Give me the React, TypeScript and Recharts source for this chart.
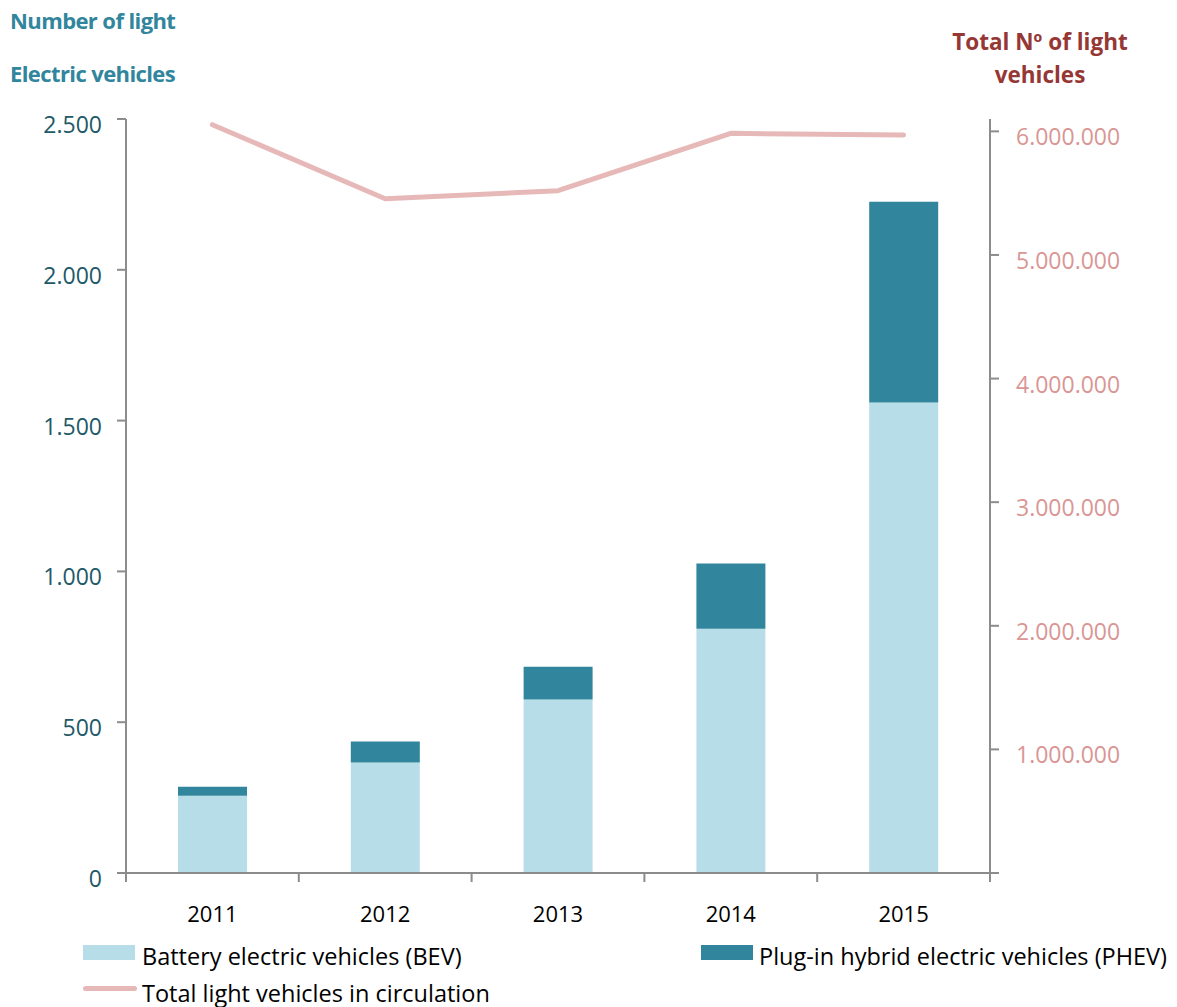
import React from "react";
import {
  Bar,
  ComposedChart,
  Line,
  XAxis,
  YAxis
} from "recharts";

const years = ["2011", "2012", "2013", "2014", "2015"];
const bevValues = [256, 366, 575, 810, 1560];
const phevValues = [30, 70, 109, 216, 666];
const totalLightVehicles = [6054000, 5455000, 5520000, 5984000, 5971000];

const leftTicks = [0, 500, 1000, 1500, 2000, 2500];
const rightTicks = [0, 1000000, 2000000, 3000000, 4000000, 5000000, 6000000];

const seriesNames = {
  bev: "Battery electric vehicles (BEV)",
  phev: "Plug-in hybrid electric vehicles (PHEV)",
  total: "Total light vehicles in circulation"
};

const chartData = years.map((year, i) => ({
  year,
  bev: bevValues[i],
  phev: phevValues[i],
  total: totalLightVehicles[i]
}));

const BEV_COLOR = "#b7dee8";
const PHEV_COLOR = "#31859c";
const TOTAL_COLOR = "#e6b9b8";
const AXIS_GRAY = "#8c8c8c";
const FONT = "'Open Sans', sans-serif";

function dotted(value: number) {
  return value.toString().replace(/\B(?=(\d{3})+(?!\d))/g, ".");
}

function YearTick(props: any) {
  const { x, y, payload, index } = props;
  const half = payload.offset ?? 86.4;
  const axisY = y - 10;
  return (
    <g>
      <line x1={x - half} x2={x - half} y1={axisY} y2={axisY + 9} stroke={AXIS_GRAY} strokeWidth={2} />
      {index === years.length - 1 && (
        <line x1={x + half} x2={x + half} y1={axisY} y2={axisY + 9} stroke={AXIS_GRAY} strokeWidth={2} />
      )}
      <text x={x} y={axisY + 40} textAnchor="middle" dominantBaseline="central" fontSize={22} fill="#000" fontFamily={FONT}>
        {payload.value}
      </text>
    </g>
  );
}

function LeftTick(props: any) {
  const { x, y, payload } = props;
  return (
    <text x={x} y={y + 5} textAnchor="end" dominantBaseline="central" fontSize={23} fill="#215968" fontFamily={FONT}>
      {dotted(payload.value)}
    </text>
  );
}

function RightTick(props: any) {
  const { x, y, payload } = props;
  if (payload.value === 0) return <g />;
  return (
    <text x={x} y={y + 5} textAnchor="start" dominantBaseline="central" fontSize={23} fill="#d99694" fontFamily={FONT}>
      {dotted(payload.value)}
    </text>
  );
}

const legendItems = [
  { label: seriesNames.bev, color: BEV_COLOR, line: false, left: 83, top: 945, textLeft: 142, textTop: 956 },
  { label: seriesNames.phev, color: PHEV_COLOR, line: false, left: 701, top: 945, textLeft: 759, textTop: 956 },
  { label: seriesNames.total, color: TOTAL_COLOR, line: true, left: 83, top: 988, textLeft: 142, textTop: 993 }
];

function ChartLegend() {
  return (
    <>
      {legendItems.map((item) => (
        <React.Fragment key={item.label}>
          <div
            style={{
              position: "absolute",
              left: item.left,
              top: item.line ? item.top - 2.5 : item.top,
              width: item.line ? 54 : 52,
              height: item.line ? 5 : 15,
              borderRadius: item.line ? 3 : 0,
              background: item.color
            }}
          />
          <div
            style={{
              position: "absolute",
              left: item.textLeft,
              top: item.textTop - 16,
              height: 32,
              lineHeight: "32px",
              fontSize: 23.5,
              color: "#000",
              whiteSpace: "nowrap"
            }}
          >
            {item.label}
          </div>
        </React.Fragment>
      ))}
    </>
  );
}

export default function App() {
  return (
    <div style={{ position: "absolute", left: 0, top: 0, width: 1177, height: 1007, background: "#fff", fontFamily: FONT }}>
      <div style={{ position: "absolute", left: 10, top: 5, fontSize: 22, fontWeight: 700, color: "#31859c", letterSpacing: -0.6, lineHeight: "30px" }}>
        Number of light
      </div>
      <div style={{ position: "absolute", left: 10, top: 58, fontSize: 22, fontWeight: 700, color: "#31859c", letterSpacing: -0.6, lineHeight: "30px" }}>
        Electric vehicles
      </div>
      <div style={{ position: "absolute", left: 940, top: 25, width: 200, textAlign: "center", fontSize: 22.5, fontWeight: 700, color: "#953735", lineHeight: "33px" }}>
        Total Nº of light
        <br />
        vehicles
      </div>
      <div style={{ position: "absolute", left: 0, top: 0 }}>
        <ComposedChart
          width={1177}
          height={1007}
          data={chartData}
          margin={{ top: 119, right: 0, bottom: 94, left: 0 }}
        >
          <XAxis
            dataKey="year"
            height={40}
            axisLine={{ stroke: AXIS_GRAY, strokeWidth: 2 }}
            tickLine={false}
            tickSize={8}
            tickMargin={2}
            tick={<YearTick />}
            interval={0}
          />
          <YAxis
            yAxisId="left"
            width={126}
            domain={[0, 2500]}
            ticks={leftTicks}
            allowDataOverflow
            axisLine={{ stroke: AXIS_GRAY, strokeWidth: 2 }}
            tickLine={{ stroke: AXIS_GRAY, strokeWidth: 2 }}
            tickSize={9}
            tickMargin={15}
            tick={<LeftTick />}
            interval={0}
          />
          <YAxis
            yAxisId="right"
            orientation="right"
            width={187}
            domain={[0, 6100000]}
            ticks={rightTicks}
            allowDataOverflow
            axisLine={{ stroke: AXIS_GRAY, strokeWidth: 2 }}
            tickLine={{ stroke: AXIS_GRAY, strokeWidth: 2 }}
            tickSize={9}
            tickMargin={17}
            tick={<RightTick />}
            interval={0}
          />
          <Bar yAxisId="left" dataKey="bev" stackId="ev" name={seriesNames.bev} fill={BEV_COLOR} barSize={69} isAnimationActive={false} />
          <Bar yAxisId="left" dataKey="phev" stackId="ev" name={seriesNames.phev} fill={PHEV_COLOR} barSize={69} isAnimationActive={false} />
          <Line
            yAxisId="right"
            dataKey="total"
            name={seriesNames.total}
            stroke={TOTAL_COLOR}
            strokeWidth={5}
            strokeLinecap="round"
            strokeLinejoin="round"
            dot={false}
            activeDot={false}
            type="linear"
            isAnimationActive={false}
          />
        </ComposedChart>
      </div>
      <ChartLegend />
    </div>
  );
}
